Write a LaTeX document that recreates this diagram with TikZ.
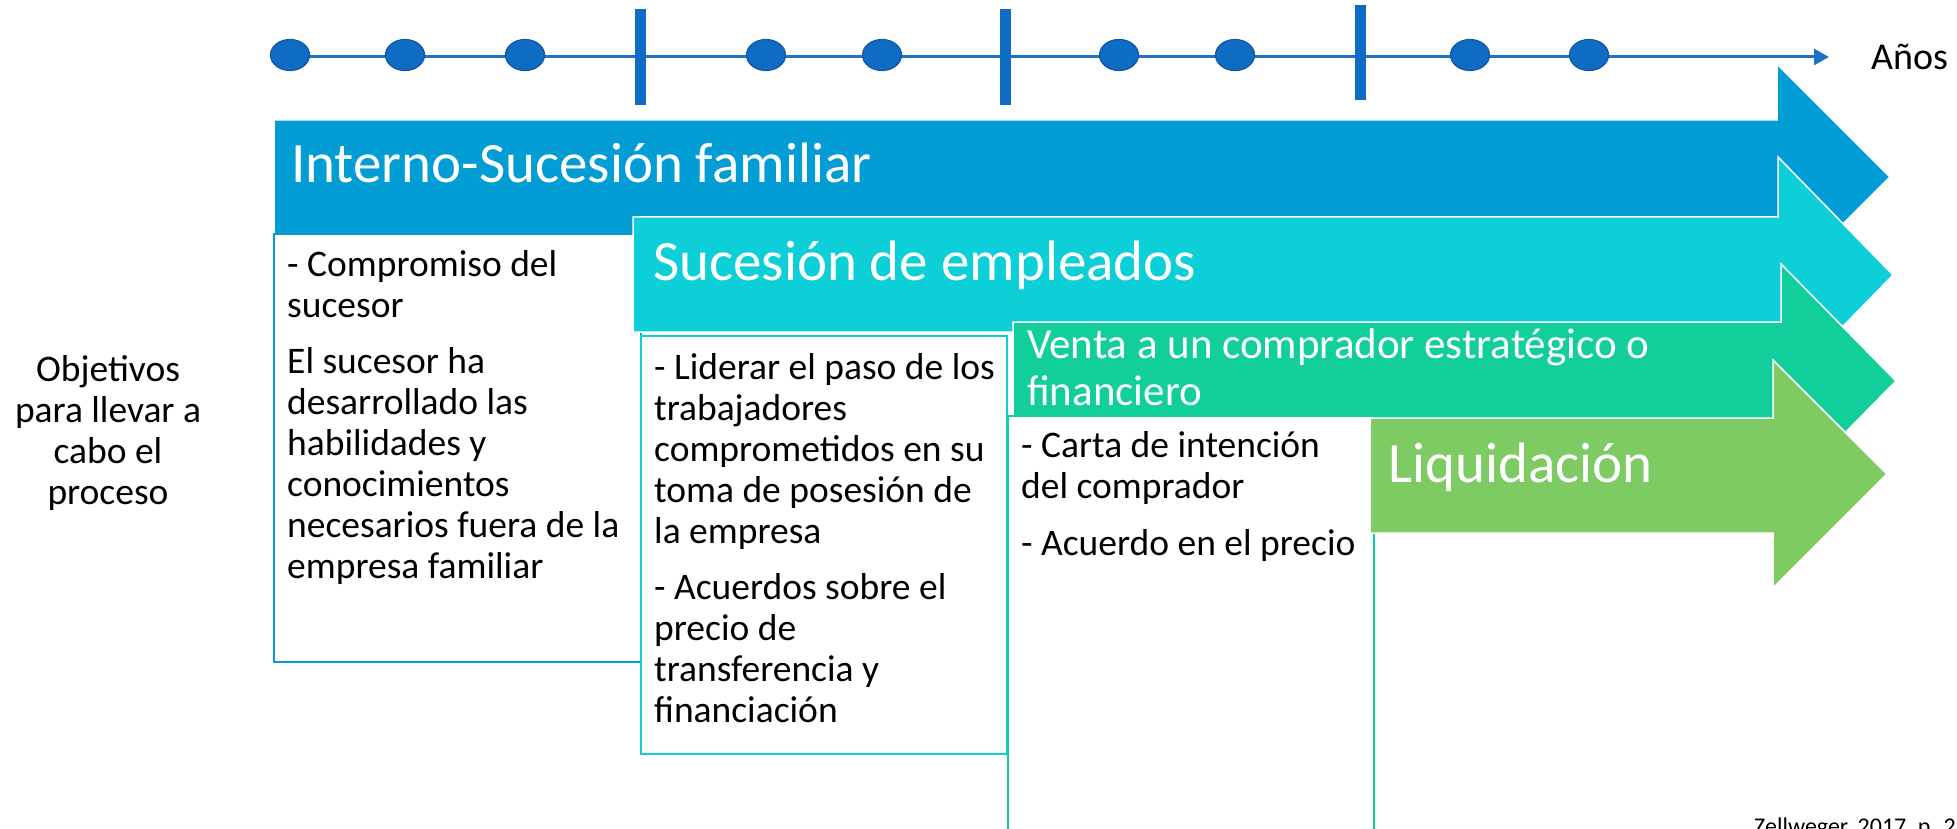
\documentclass[tikz,border=0pt]{standalone}
\usepackage{fontspec}
\setmainfont{Carlito}
\usetikzlibrary{positioning}
\usetikzlibrary{calc}
\usetikzlibrary{arrows.meta}
\usetikzlibrary{shapes.geometric}

\definecolor{famblue}{RGB}{3,157,214}
\definecolor{empcyan}{RGB}{13,207,216}
\definecolor{vtagreen}{RGB}{18,206,154}
\definecolor{liqgreen}{RGB}{126,203,99}
\definecolor{dotblue}{RGB}{15,108,196}
\definecolor{dotedge}{RGB}{20,85,160}
\definecolor{lineblue}{RGB}{30,112,200}

\begin{document}
\begin{tikzpicture}[x=1pt, y=-1pt]
% -------------------------------------------------
\tikzset{
  phase/.style={draw=white, line width=1.5pt},
  box/.style={fill=white, line width=1.8pt},
  head/.style={font=\fontsize{57}{62}\selectfont, text=white, anchor=base west, inner sep=0pt},
  item/.style={font=\fontsize{37.5}{41}\selectfont, align=left, anchor=base west, inner sep=0pt},
  dot/.style={ellipse, fill=dotblue, draw=dotedge, line width=1.2pt, minimum width=39pt, minimum height=31pt, inner sep=0pt},
  tick/.style={fill=dotblue},
  line/.style={draw=lineblue, line width=3pt, -{Triangle[length=15pt,width=16pt]}}
}

    \useasboundingbox (0,0) rectangle (1957,829);
    \clip (0,0) rectangle (1957,829);

    % time line with years
    \coordinate (t0) at (290,57);
    \coordinate (tend) at (1829,57);
    \path [line] (t0) -- (tend);

    \fill[tick] (634.5,9) rectangle (645.5,105);                   % first period mark
    \fill[tick] (999.5,9) rectangle (1010.5,105);                  % second period mark
    \fill[tick] (1354.5,5) rectangle (1365.5,100);                 % third period mark

    \node[dot] (d1) at (290,55) {};
    \node[dot] (d2) at (405,55) {};
    \node[dot] (d3) at (525,55) {};
    \node[dot] (d4) at (766,55) {};
    \node[dot] (d5) at (882,55) {};
    \node[dot] (d6) at (1119,55) {};
    \node[dot] (d7) at (1235,55) {};
    \node[dot] (d8) at (1470,55) {};
    \node[dot] (d9) at (1589,55) {};

    \node[anchor=base west, font=\fontsize{38}{40}\selectfont, inner sep=0pt] (anos) at (1871,70) {Años};

    % phase arrows and their boxes, back to front
    \path[phase, fill=famblue] (274,120) -- (1777,120) -- (1777,64) -- (1890,177) -- (1777,290) -- (1777,234) -- (274,234) -- cycle;
    \draw[box, draw=famblue] (274,234) rectangle (641,662);

    \path[phase, fill=empcyan] (633,217) -- (1778,217) -- (1778,157) -- (1893,275) -- (1778,393) -- (1778,332) -- (633,332) -- cycle;
    \draw[box, draw=empcyan] (641,336) rectangle (1007,754);

    \path[phase, fill=vtagreen] (1013,322) -- (1781,322) -- (1781,264) -- (1896,381) -- (1781,498) -- (1781,440) -- (1013,440) -- cycle;
    \draw[box, draw=vtagreen] (1008,416) rectangle (1374,860);

    \path[phase, fill=liqgreen] (1370,418) -- (1773,418) -- (1773,360) -- (1887,474) -- (1773,588) -- (1773,533) -- (1370,533) -- cycle;

    % arrow titles (base = last line)
    \node[head] (fam) at (291,183) {Interno-Sucesión familiar};
    \node[head] (emp) at (653,280) {Sucesión de empleados};
    \node[head, font=\fontsize{43}{47}\selectfont, align=left] (vta) at (1027,405) {Venta a un comprador estratégico o\\financiero};
    \node[head] (liq) at (1388,482) {Liquidación};

    % objectives in each box (base = last line)
    \node[item] (c1) at (287,317) {- Compromiso del\\sucesor};
    \node[item] (c2) at (287,578) {El sucesor ha\\desarrollado las\\habilidades y\\conocimientos\\necesarios fuera de la\\empresa familiar};
    \node[item] (e1) at (654,543) {- Liderar el paso de los\\trabajadores\\comprometidos en su\\toma de posesión de\\la empresa};
    \node[item] (e2) at (654,722) {- Acuerdos sobre el\\precio de\\transferencia y\\financiación};
    \node[item] (v1) at (1021,498) {- Carta de intención\\del comprador};
    \node[item] (v2) at (1021,555) {- Acuerdo en el precio};

    \node[item, align=center, anchor=base] (obj) at (108,504) {Objetivos\\para llevar a\\cabo el\\proceso};

    \node[anchor=base west, font=\fontsize{24}{26}\selectfont, inner sep=0pt] (src) at (1754,834) {Zellweger, 2017, p. 2};

\end{tikzpicture}
\end{document}
